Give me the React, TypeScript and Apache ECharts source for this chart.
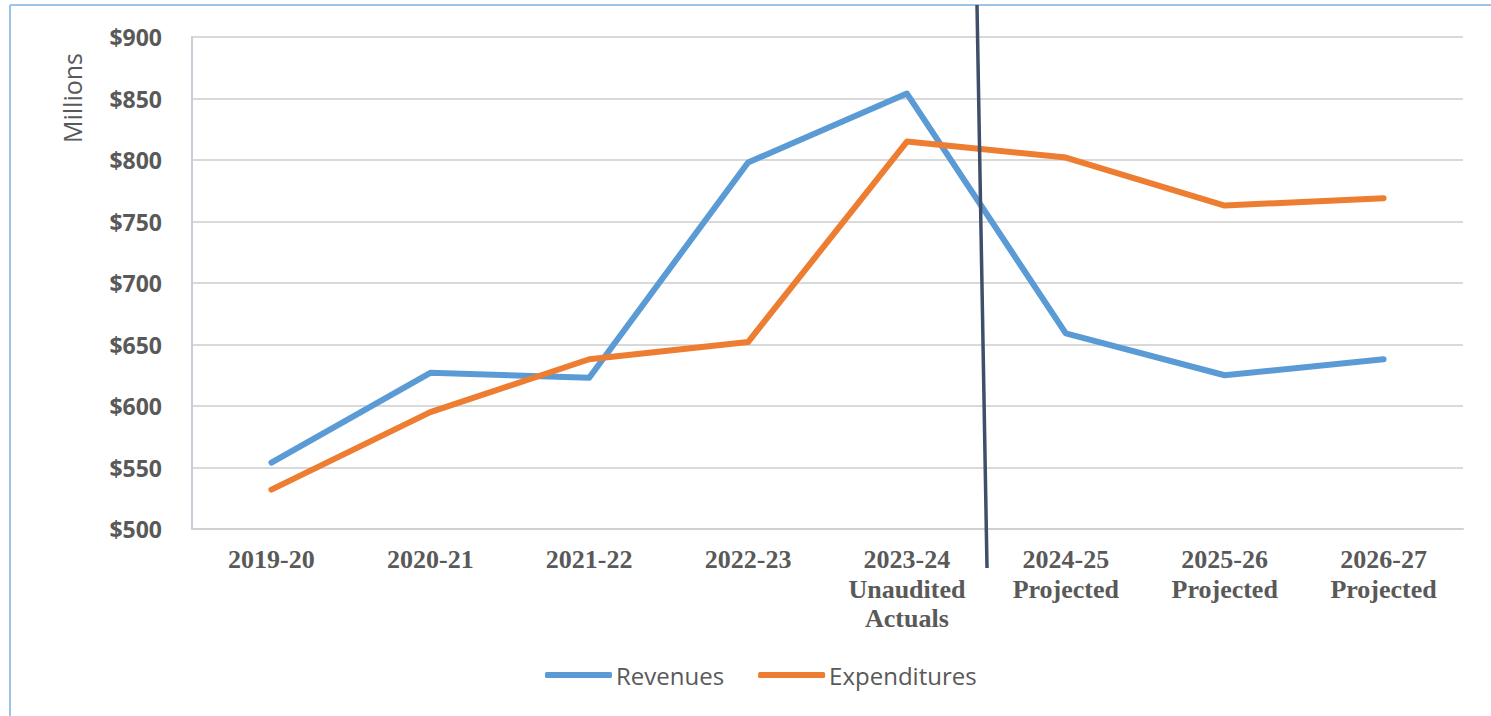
import React, { useEffect, useRef } from "react";
import * as echarts from "echarts";

const categories = [
  "2019-20",
  "2020-21",
  "2021-22",
  "2022-23",
  "2023-24\nUnaudited\nActuals",
  "2024-25\nProjected",
  "2025-26\nProjected",
  "2026-27\nProjected",
];
const revenues = [554, 627, 623, 798, 854, 659, 625, 638];
const expenditures = [532, 595, 638, 652, 815, 802, 763, 769];
const yTicks = { min: 500, max: 900, interval: 50 };

export default function App() {
  const ref = useRef<HTMLDivElement>(null);
  useEffect(() => {
    if (!ref.current) return;
    const chart = echarts.init(ref.current, null, { renderer: "svg" });
    chart.setOption({
      animation: false,
      backgroundColor: "#ffffff",
      grid: { left: 192, right: 28, top: 37, bottom: 187, containLabel: false },
      legend: {
        data: ["Revenues", "Expenditures"],
        bottom: 24,
        left: 540,
        icon: "roundRect",
        itemWidth: 67,
        itemHeight: 6,
        itemGap: 34,
        textStyle: { fontFamily: "Open Sans", fontSize: 24, color: "#595959", padding: [0, 0, 0, -1] },
      },
      xAxis: {
        type: "category",
        data: categories,
        boundaryGap: true,
        axisLine: { lineStyle: { color: "#d0d0d0", width: 2 } },
        axisTick: { show: false },
        axisLabel: {
          interval: 0,
          margin: 16,
          fontFamily: "Liberation Serif",
          fontWeight: "bold",
          fontSize: 26,
          lineHeight: 29.5,
          color: "#595959",
        },
      },
      yAxis: {
        type: "value",
        min: yTicks.min,
        max: yTicks.max,
        interval: yTicks.interval,
        axisLine: { show: true, lineStyle: { color: "#c5cfdc", width: 2 } },
        axisTick: { show: false },
        splitLine: { lineStyle: { color: "#d9d9d9", width: 2 } },
        axisLabel: {
          margin: 30,
          fontFamily: "Open Sans",
          fontWeight: "bold",
          fontSize: 23,
          color: "#595959",
          formatter: (v: number) => "$" + v,
        },
      },
      series: [
        {
          name: "Revenues",
          type: "line",
          data: revenues,
          symbol: "none",
          color: "#5b9bd5",
          lineStyle: { width: 6, color: "#5b9bd5", join: "round", cap: "round" },
        },
        {
          name: "Expenditures",
          type: "line",
          data: expenditures,
          symbol: "none",
          color: "#ed7d31",
          lineStyle: { width: 6, color: "#ed7d31", join: "round", cap: "round" },
        },
      ],
      graphic: [
        {
          type: "line",
          shape: { x1: 10, y1: 5, x2: 10, y2: 716 },
          style: { stroke: "#9dc3e6", lineWidth: 2 },
        },
        {
          type: "line",
          shape: { x1: 10, y1: 5, x2: 1491, y2: 5 },
          style: { stroke: "#9dc3e6", lineWidth: 2 },
        },
        {
          type: "text",
          x: 72,
          y: 98,
          rotation: Math.PI / 2,
          style: {
            text: "Millions",
            fontFamily: "Open Sans",
            fontSize: 25,
            fill: "#595959",
            align: "center",
            verticalAlign: "middle",
          },
        },
        {
          type: "line",
          z: 100,
          shape: { x1: 977, y1: 5, x2: 987, y2: 568 },
          style: { stroke: "#3f4f6b", lineWidth: 3.5 },
        },
      ],
    });
    return () => chart.dispose();
  }, []);
  return (
    <div
      ref={ref}
      style={{ position: "absolute", left: 0, top: 0, width: 1491, height: 716 }}
    />
  );
}
